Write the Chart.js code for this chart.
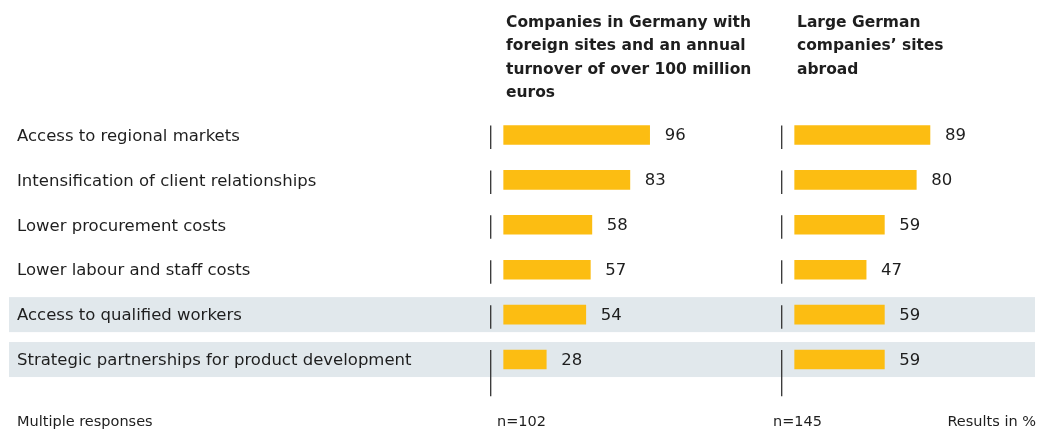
<!DOCTYPE html>
<html>
<head>
<meta charset="utf-8">
<script src="https://cdn.jsdelivr.net/npm/chart.js@4"></script>
<style>
  html, body { margin: 0; padding: 0; background: #fff; }
  #wrap { position: relative; width: 1049px; height: 437px; }
</style>
</head>
<body>
<div id="wrap"><canvas id="chart" width="1049" height="437"></canvas></div>
<script>
// data
const categories = [
    'Access to regional markets',
    'Intensification of client relationships',
    'Lower procurement costs',
    'Lower labour and staff costs',
    'Access to qualified workers',
    'Strategic partnerships for product development'
];
const germanyValues = [96, 83, 58, 57, 54, 28];
const abroadValues = [89, 80, 59, 47, 59, 59];
const highlighted = [4, 5];
const germanyTitle = ['Companies in Germany with', 'foreign sites and an annual', 'turnover of over 100 million', 'euros'];
const abroadTitle = ['Large German', 'companies\u2019 sites', 'abroad'];
const germanyN = 'n=102';
const abroadN = 'n=145';
const footLeft = 'Multiple responses';
const footRight = 'Results in %';

const FONT = '"DejaVu Sans", "Noto Sans", sans-serif';
const TEXT = '#1e1e1e';
const BAR = '#fcbd12';
const BAND = '#e1e8ec';

const decorPlugin = {
    id: 'decor',
    beforeDraw(chart) {
        // highlight bands go under the labels
        const ctx = chart.ctx;
        const y = chart.scales.y;
        ctx.save();
        ctx.fillStyle = BAND;
        highlighted.forEach(i => {
            const cy = y.getPixelForValue(i);
            ctx.fillRect(9, cy - 17.5, chart.chartArea.right - 9, 35);
        });
        ctx.restore();
    },
    beforeDatasetsDraw(chart) {
        const ctx = chart.ctx;
        const y = chart.scales.y;
        const step = y.getPixelForValue(1) - y.getPixelForValue(0);
        ctx.save();
        // short axis strokes per row
        ctx.strokeStyle = '#333';
        ctx.lineWidth = 1.3;
        ['x1', 'x2'].forEach(id => {
            const x = chart.scales[id].left + 0.7;
            categories.forEach((c, i) => {
                const cy = y.getPixelForValue(i);
                const bottom = i === categories.length - 1 ? cy + step * 0.82 : cy + 14;
                ctx.beginPath();
                ctx.moveTo(x, cy - 9.5);
                ctx.lineTo(x, bottom);
                ctx.stroke();
            });
        });
        ctx.restore();
    },
    afterDatasetsDraw(chart) {
        const ctx = chart.ctx;
        ctx.save();
        ctx.fillStyle = TEXT;
        ctx.font = '16.5px ' + FONT;
        ctx.textBaseline = 'middle';
        ctx.textAlign = 'left';
        chart.data.datasets.forEach((ds, di) => {
            chart.getDatasetMeta(di).data.forEach((bar, i) => {
                ctx.fillText(String(ds.data[i]), bar.x + 15, bar.y + 1);
            });
        });

        // column headers
        ctx.font = 'bold 15.5px ' + FONT;
        const x1 = chart.scales.x1, x2 = chart.scales.x2;
        germanyTitle.forEach((t, i) => ctx.fillText(t, x1.left + 16, 23 + i * 23.3));
        abroadTitle.forEach((t, i) => ctx.fillText(t, x2.left + 16, 23 + i * 23.3));

        // footer
        ctx.font = '14.5px ' + FONT;
        ctx.fillText(footLeft, 17, 422);
        ctx.fillText(germanyN, x1.left + 7, 422);
        ctx.fillText(abroadN, x2.left - 8, 422);
        ctx.textAlign = 'right';
        ctx.fillText(footRight, chart.chartArea.right + 1, 422);
        ctx.restore();
    }
};

new Chart(document.getElementById('chart').getContext('2d'), {
    type: 'bar',
    data: {
        labels: categories,
        datasets: [{
            label: germanyTitle.join(' '),
            data: germanyValues,
            xAxisID: 'x1',
            backgroundColor: BAR,
            barThickness: 19,
            grouped: false
        }, {
            label: abroadTitle.join(' '),
            data: abroadValues,
            xAxisID: 'x2',
            backgroundColor: BAR,
            barThickness: 19,
            grouped: false
        }]
    },
    options: {
        indexAxis: 'y',
        responsive: false,
        animation: false,
        layout: { padding: { left: 17, right: 14, top: 112.5, bottom: 55 } },
        plugins: {
            legend: { display: false },
            tooltip: { enabled: false }
        },
        scales: {
            y: {
                grid: { display: false },
                border: { display: false },
                ticks: {
                    crossAlign: 'far',
                    labelOffset: 1.5,
                    color: TEXT,
                    font: { family: FONT, size: 16.5 }
                },
                afterFit: s => { s.width = 473; }
            },
            x1: {
                type: 'linear',
                position: 'bottom',
                stack: 'panels',
                stackWeight: 291,
                min: -9,
                max: 182.4,
                display: false
            },
            x2: {
                type: 'linear',
                position: 'bottom',
                stack: 'panels',
                stackWeight: 254,
                min: -9,
                max: 158.1,
                display: false
            }
        }
    },
    plugins: [decorPlugin]
});
</script>
</body>
</html>
